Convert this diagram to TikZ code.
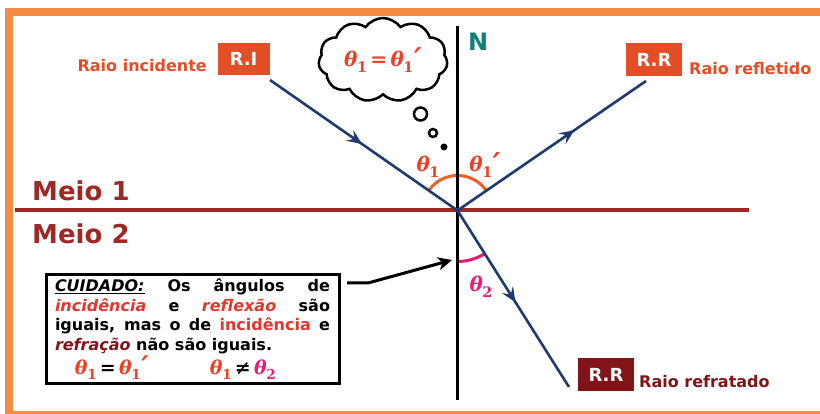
\documentclass[tikz,border=0pt]{standalone}
\usepackage{fontspec}
\setmainfont{DejaVu Sans}[ItalicFont={* Oblique},BoldFont={* Bold},BoldItalicFont={* Bold Oblique}]
\newfontfamily\thfont{DejaVu Serif}[ItalicFont={* Italic},BoldFont={* Bold},BoldItalicFont={* Bold Italic}]
\usetikzlibrary{shapes.symbols,arrows.meta,decorations.markings}
\definecolor{framec}{RGB}{245,140,70}
\definecolor{lblc}{RGB}{228,78,38}
\definecolor{rayc}{RGB}{31,58,110}
\definecolor{meioc}{RGB}{158,40,36}
\definecolor{refrc}{RGB}{130,20,25}
\definecolor{nc}{RGB}{15,130,120}
\definecolor{thc}{RGB}{235,65,40}
\definecolor{thtwoc}{RGB}{230,30,120}
\definecolor{arcc}{RGB}{235,95,40}
\definecolor{incc}{RGB}{225,55,45}
% theta with subscript (#1) in bold italic serif
\newcommand{\thsym}[1]{{\thfont\bfseries\itshape θ\kern-0.02em\raisebox{-0.3em}{\fontsize{0.72\dimexpr\fontdimen6\font\relax}{1em}\selectfont\upshape #1}}}
\newcommand{\thprime}{{\thfont\bfseries\itshape\kern0.02em\raisebox{-0.12em}{\scalebox{1.5}{′}}}}
\newcommand{\threl}[1]{{\thfont\bfseries\,#1\,}}
\begin{document}
\begin{tikzpicture}[x=1pt,y=-1pt,
  ray/.style={rayc,line width=2.6},
  midarrow/.style={postaction={decorate},decoration={markings,mark=at position #1 with {\arrow{Stealth[length=15pt,width=13pt,inset=6pt]}}}},
  lbl/.style={inner sep=0pt,font=\fontsize{16}{19}\selectfont\bfseries},
  tagbox/.style={minimum width=52,minimum height=32,inner sep=0pt,text=white,font=\fontsize{18}{20}\selectfont\bfseries},
  meio/.style={inner sep=0pt,anchor=base west,text=meioc,font=\fontsize{26}{28}\selectfont\bfseries},
  theta/.style={inner sep=0pt,font=\fontsize{20}{22}\selectfont},
  bubble/.style={circle,draw,line width=2.5,inner sep=0pt},
  warnbox/.style={draw,line width=3,text width=275,align=justify,inner xsep=9,inner ysep=4,minimum height=106,font=\fontsize{16}{19.5}\selectfont\bfseries}
]
\useasboundingbox (0,0) rectangle (820,414);
\fill[white] (0,0) rectangle (820,414);
\draw[framec,line width=8] (9,12) rectangle (830,415);

% coordinates
\coordinate (O) at (457.5,210.5);
\coordinate (Ntop) at (457.5,26);
\coordinate (Nbot) at (457.5,400);
\coordinate (Lleft) at (15,210.5);
\coordinate (Lright) at (749,210.5);
\coordinate (I) at (270,80);
\coordinate (Rf) at (646,81);
\coordinate (Rr) at (569,387);

% angle arcs
\draw[arcc,line width=3] ([shift={(-145.2:35)}]O) arc[start angle=-145.2,end angle=-34.2,radius=35];
\draw[thtwoc,line width=3] ([shift={(90:51)}]O) arc[start angle=90,end angle=57.6,radius=51];

% normal and interface
\draw[line width=2.6] (Ntop) -- (Nbot);
\draw[meioc,line width=4] (Lleft) -- (Lright);

% rays
\draw[ray,midarrow=0.49] (I) -- (O);
\draw[ray,midarrow=0.62] (O) -- (Rf);
\draw[ray,midarrow=0.52] (O) -- (Rr);

% labels
\node[meio] (m1) at (32,201) {Meio 1};
\node[meio] (m2) at (32,244) {Meio 2};
\node[inner sep=0pt,anchor=base west,text=nc,font=\fontsize{24}{26}\selectfont\bfseries] (N) at (468,51) {N};

\node[tagbox,fill=lblc] (ri) at (243.5,59) {R.I};
\node[lbl,text=lblc,anchor=base east] (ril) at (207,72) {Raio incidente};
\node[tagbox,fill=lblc,minimum width=56,minimum height=33] (rrf) at (654,59.5) {R.R};
\node[lbl,text=lblc,anchor=base west] (rrfl) at (689,75) {Raio refletido};
\node[tagbox,fill=refrc,minimum width=56,minimum height=33] (rrr) at (606,374.5) {R.R};
\node[lbl,text=refrc,anchor=base west] (rrrl) at (639,388) {Raio refratado};

\node[theta,text=thc] (t1) at (428,167) {\thsym{1}};
\node[theta,text=thc] (t1p) at (485,165) {\thsym{1}\thprime};
\node[theta,text=thtwoc] (t2) at (481,287) {\thsym{2}};

% thought cloud
\node[cloud,draw,line width=2.5,cloud puffs=11,cloud puff arc=110,aspect=1.6,minimum width=129,minimum height=84,inner sep=0pt,text=thc,font=\fontsize{20}{22}\selectfont] (cloud) at (383,60) {\thsym{1}\threl{=}\thsym{1}\thprime};
\node[bubble,minimum size=13] (b1) at (420.5,114) {};
\node[bubble,minimum size=8] (b2) at (433,133) {};
\node[circle,fill,inner sep=0pt,minimum size=7] (b3) at (444,147) {};

% warning box
\node[warnbox,anchor=north west] (warn) at (44.5,273.5) {\noindent\underline{\textit{CUIDADO:}} Os ângulos de\linebreak
{\color{incc}\textit{incidência}} e {\color{incc}\textit{reflexão}} são\linebreak
iguais, mas o de {\color{incc}incidência} e\linebreak
{\color{refrc}\textit{refração}} não são iguais.\par\vspace{1pt}
\noindent\hspace*{20pt}\makebox[135pt][l]{\fontsize{19}{20}\selectfont{\color{thc}\thsym{1}}\threl{=}{\color{thc}\thsym{1}\thprime}}{\fontsize{19}{20}\selectfont{\color{thc}\thsym{1}}\threl{≠}{\color{thtwoc}\thsym{2}}}};

% pointer arrow
\coordinate (ptail) at (347,283);
\coordinate (pbend) at (368,283);
\coordinate (ptip) at (452,260);
\draw[line width=3,-{Stealth[length=14pt,width=13pt,inset=4pt]}] (ptail) -- (pbend) -- (ptip);
\end{tikzpicture}
\end{document}
